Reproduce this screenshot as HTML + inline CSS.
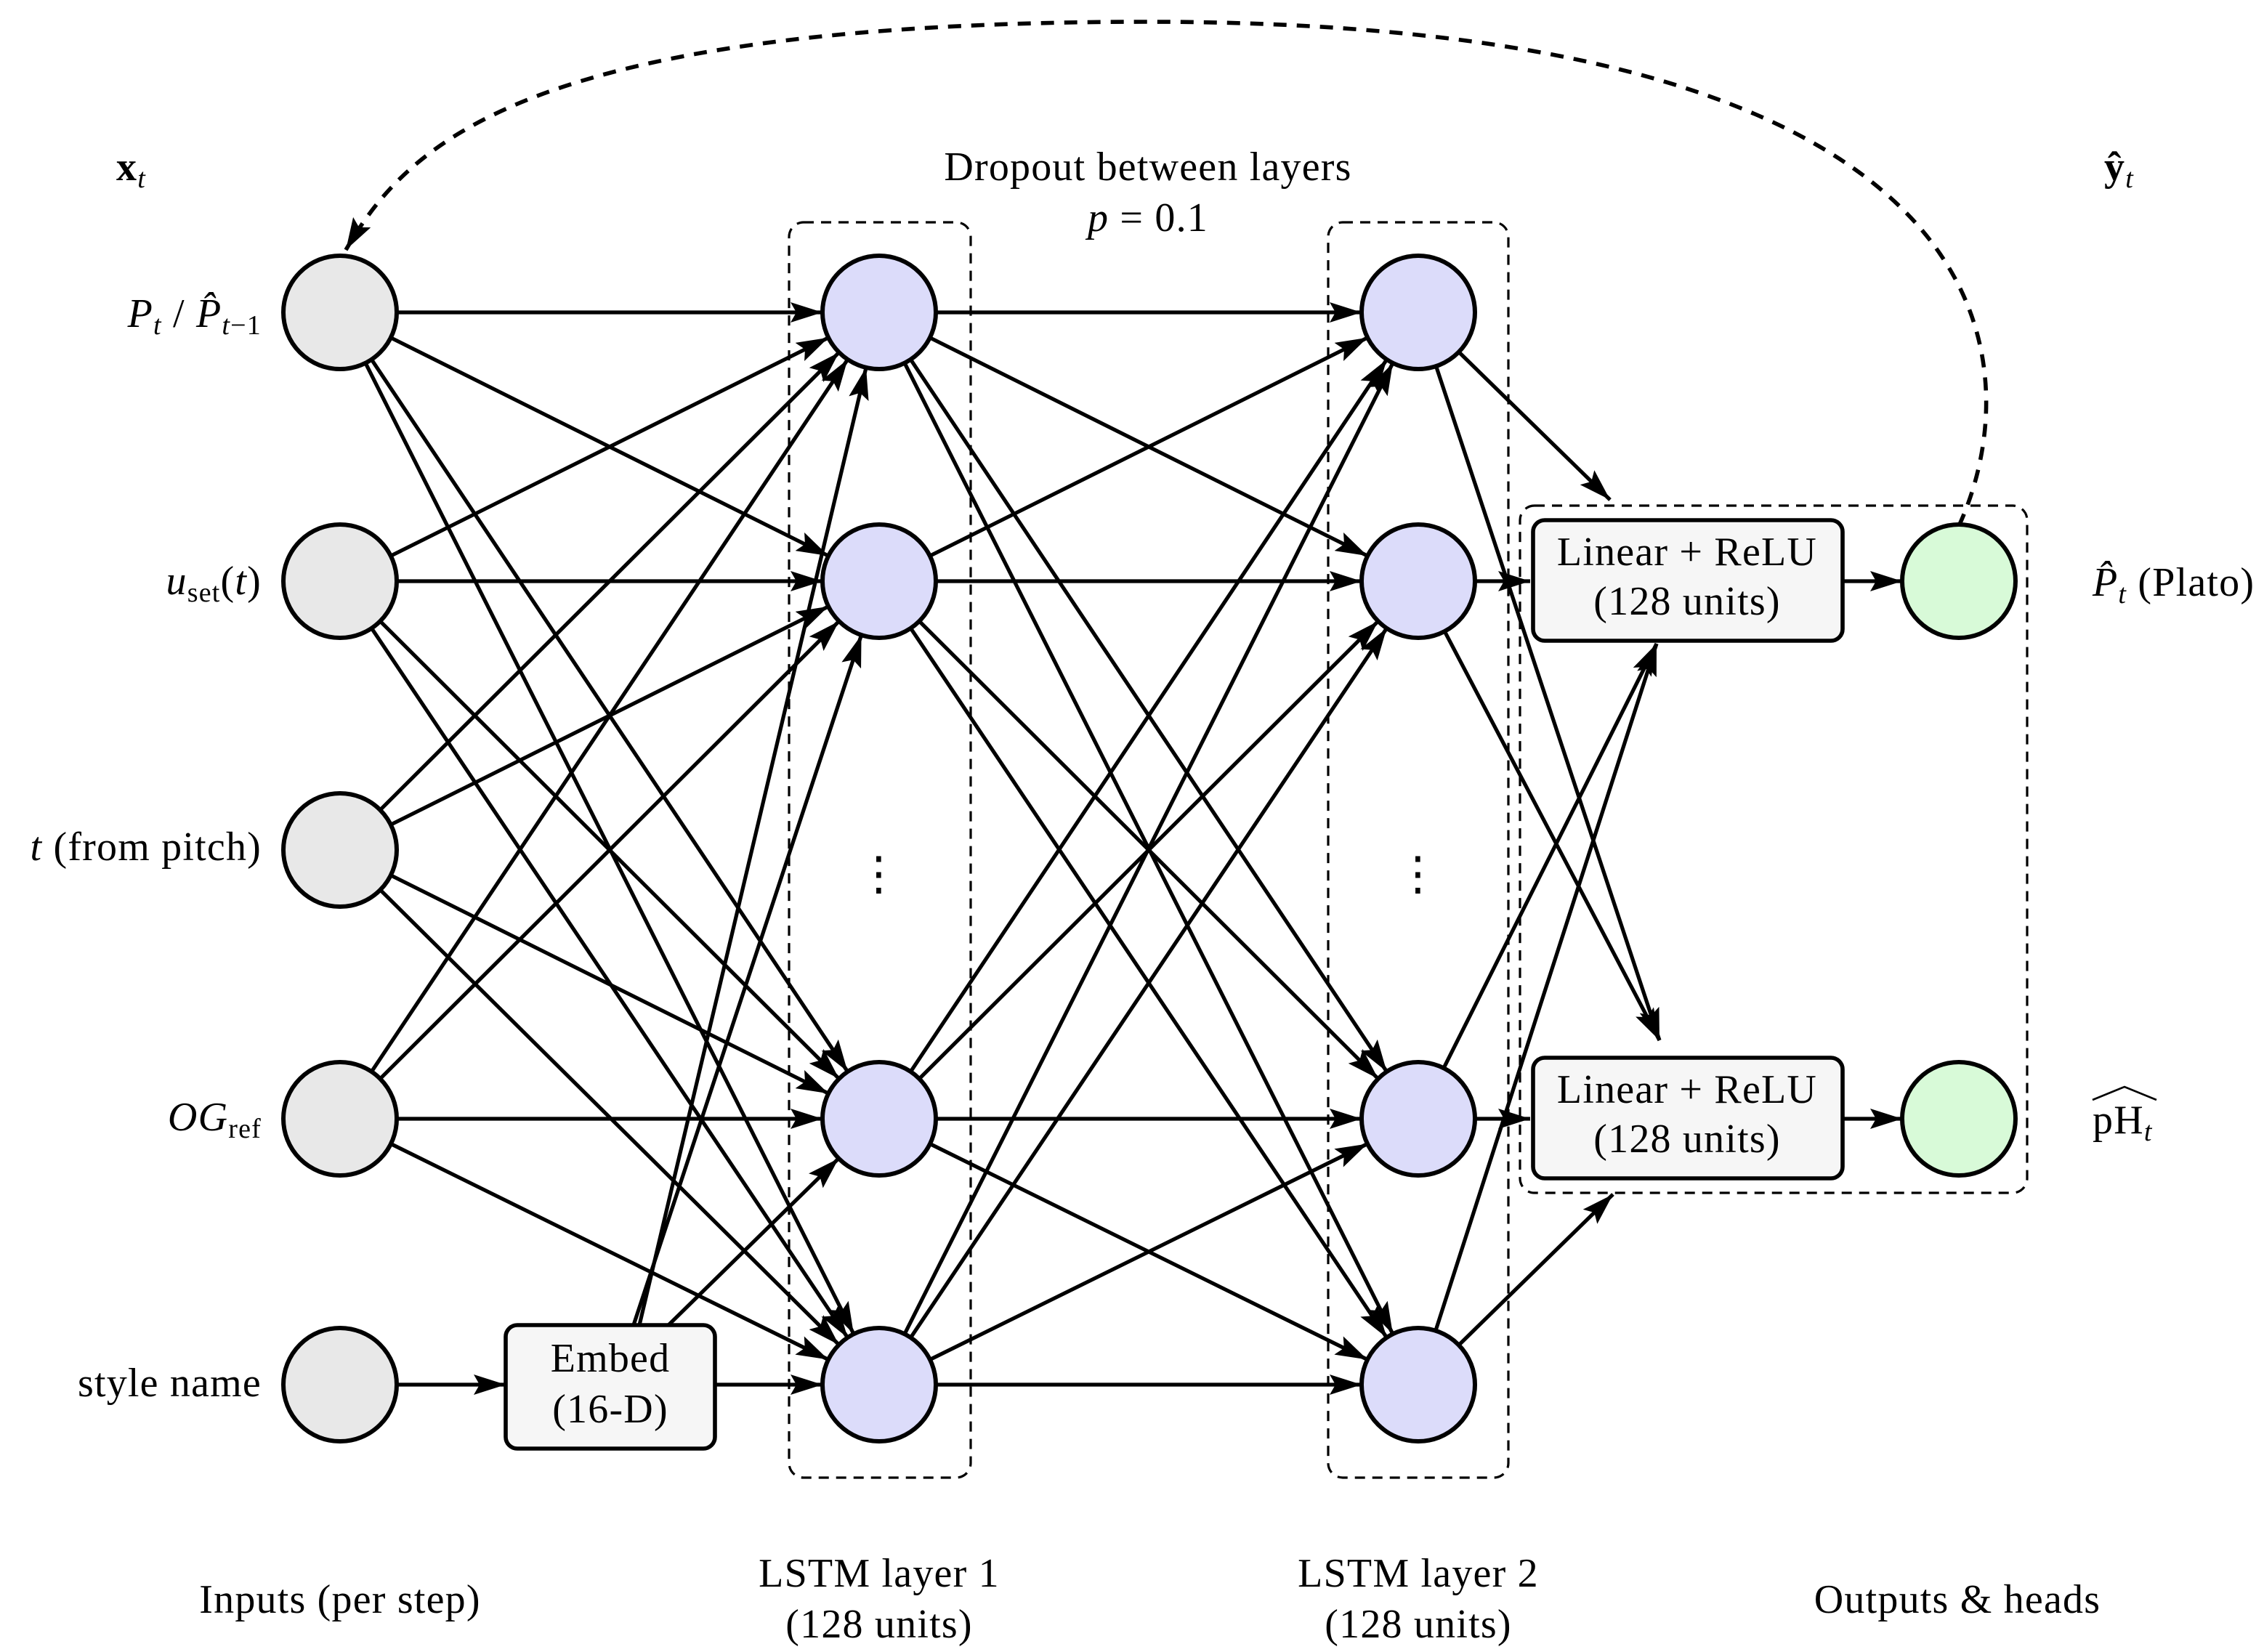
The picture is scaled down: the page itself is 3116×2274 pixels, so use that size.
<!DOCTYPE html>
<html><head><meta charset="utf-8"><style>
html,body{margin:0;padding:0;background:#fff}
svg{display:block}
text{font-family:"Liberation Serif",serif;fill:#000;letter-spacing:0.6px}
</style></head><body>
<svg id="s" width="3116" height="2274" viewBox="0 0 1558 1137" xmlns="http://www.w3.org/2000/svg">
<defs>
<marker id="a" viewBox="0 0 22 14" refX="22" refY="7" markerWidth="22" markerHeight="14" markerUnits="userSpaceOnUse" orient="auto">
<path d="M0,0 L22,7 L0,14 L4,7 Z" fill="#000"/></marker>
</defs>
<g fill="none" stroke="#000" stroke-width="1.6" stroke-dasharray="7,5">
<rect x="543" y="153" width="125" height="864" rx="10"/>
<rect x="914" y="153" width="124" height="864" rx="10"/>
<rect x="1046" y="348" width="349" height="473" rx="10"/>
</g>
<path d="M1348,362 C1395,260 1400,15 790,15 C 360,15 280,100 238,172" fill="none" stroke="#000" stroke-width="2.8" stroke-dasharray="9,7" marker-end="url(#a)"/>
<g id="lines" stroke="#000" stroke-width="2.6" fill="none"></g>
<g id="nodes"></g>
<g stroke="#000" stroke-width="2.8">
<rect x="348" y="912" width="144" height="85" rx="8" fill="#f6f6f6"/>
<rect x="1055" y="358" width="213" height="83" rx="8" fill="#f6f6f6"/>
<rect x="1055" y="728" width="213" height="83" rx="8" fill="#f6f6f6"/>
</g>
<g font-size="28" text-anchor="middle">
<text x="420" y="944">Embed</text><text x="420" y="979">(16-D)</text>
<text x="1161" y="389">Linear + ReLU</text><text x="1161" y="423">(128 units)</text>
<text x="1161" y="759">Linear + ReLU</text><text x="1161" y="793">(128 units)</text>
<text x="790" y="124">Dropout between layers</text>
<text x="790" y="159"><tspan font-style="italic">p</tspan> = 0.1</text>
<text x="234" y="1110">Inputs (per step)</text>
<text x="605" y="1092">LSTM layer 1</text><text x="605" y="1127">(128 units)</text>
<text x="976" y="1092">LSTM layer 2</text><text x="976" y="1127">(128 units)</text>
<text x="1347" y="1110">Outputs &amp; heads</text>
<text x="605" y="612" font-size="32">⋮</text>
<text x="976" y="612" font-size="32">⋮</text>
</g>
<g font-size="28">
<text x="80" y="124" font-weight="bold">x<tspan font-style="italic" font-weight="normal" font-size="19" dy="5">t</tspan></text>
<text x="1448" y="124" font-weight="bold">ŷ<tspan font-style="italic" font-weight="normal" font-size="19" dy="5">t</tspan></text>
<text x="180" y="225" text-anchor="end"><tspan font-style="italic">P</tspan><tspan font-style="italic" font-size="19" dy="5">t</tspan><tspan dy="-5">  /  </tspan><tspan font-style="italic">P̂</tspan><tspan font-size="19" dy="5"><tspan font-style="italic">t</tspan>−1</tspan></text>
<text x="180" y="409" text-anchor="end"><tspan font-style="italic">u</tspan><tspan font-size="19" dy="5">set</tspan><tspan dy="-5">(</tspan><tspan font-style="italic">t</tspan>)</text>
<text x="180" y="592" text-anchor="end"><tspan font-style="italic">t</tspan> (from pitch)</text>
<text x="180" y="778" text-anchor="end"><tspan font-style="italic">OG</tspan><tspan font-size="19" dy="5">ref</tspan></text>
<text x="180" y="961" text-anchor="end">style name</text>
<text x="1440" y="410"><tspan font-style="italic">P̂</tspan><tspan font-style="italic" font-size="19" dy="5">t</tspan><tspan dy="-5"> (Plato)</tspan></text>
<text x="1440" y="780">pH<tspan font-style="italic" font-size="19" dy="5">t</tspan></text>
</g>
<path d="M1440,757 L1462,748 L1484,757" fill="none" stroke="#000" stroke-width="1.3"/>
<script>
var L=document.getElementById('lines'),N=document.getElementById('nodes'),ns='http://www.w3.org/2000/svg',R=39;
var iy=[215,400,585,770],ly=[215,400,770,953];
function line(x1,y1,x2,y2,r1,r2){var dx=x2-x1,dy=y2-y1,d=Math.hypot(dx,dy);
var l=document.createElementNS(ns,'line');l.setAttribute('x1',x1+dx/d*r1);l.setAttribute('y1',y1+dy/d*r1);
l.setAttribute('x2',x2-dx/d*r2);l.setAttribute('y2',y2-dy/d*r2);l.setAttribute('marker-end','url(#a)');L.appendChild(l);}
function circ(x,y,f){var c=document.createElementNS(ns,'circle');c.setAttribute('cx',x);c.setAttribute('cy',y);c.setAttribute('r',R);
c.setAttribute('fill',f);c.setAttribute('stroke','#000');c.setAttribute('stroke-width','3');N.appendChild(c);}
for(var i=0;i<4;i++)for(var j=0;j<4;j++)line(234,iy[i],605,ly[j],R,R);
line(234,953,348,953,R,0);
for(var j=0;j<4;j++){var sx=[440,436,460,492][j],sy=[912,912,912,953][j];line(sx,sy,605,ly[j],0,R);}
for(var i=0;i<4;i++)for(var j=0;j<4;j++)line(605,ly[i],976,ly[j],R,R);
var t1=[[1108,344],[1053,400],[1140,443],[1140,443]],t2=[[1142,716],[1142,716],[1053,770],[1110,822]];
for(var i=0;i<4;i++){line(976,ly[i],t1[i][0],t1[i][1],R,0);line(976,ly[i],t2[i][0],t2[i][1],R,0);}
line(1268,400,1348,400,0,R);line(1268,770,1348,770,0,R);
for(var k=0;k<5;k++)circ(234,[215,400,585,770,953][k],'#e8e8e8');
for(var k=0;k<4;k++){circ(605,ly[k],'#dcdcfa');circ(976,ly[k],'#dcdcfa');}
circ(1348,400,'#d8fad8');circ(1348,770,'#d8fad8');
</script>
</svg>
</body></html>
